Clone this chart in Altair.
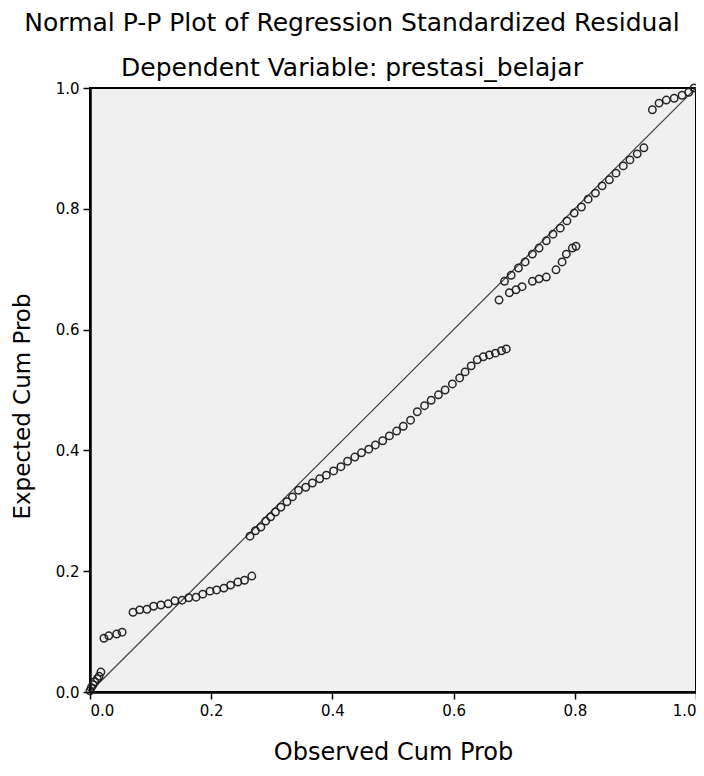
import altair as alt
import pandas as pd

# Observed / expected cumulative probabilities
obs_cum = [0.000, 0.002, 0.005, 0.008, 0.012, 0.015, 0.018,
           0.023, 0.031, 0.044, 0.053,
           0.071, 0.082, 0.094, 0.105, 0.117, 0.129, 0.140, 0.152, 0.163, 0.175,
           0.186, 0.198, 0.209, 0.221, 0.232, 0.244, 0.255, 0.267,
           0.264, 0.273, 0.282, 0.290, 0.298, 0.306, 0.315, 0.325, 0.334,
           0.344, 0.356, 0.367, 0.379, 0.390, 0.402, 0.414, 0.425, 0.437, 0.448,
           0.460, 0.471, 0.483, 0.494, 0.506, 0.517, 0.529, 0.540, 0.552, 0.563,
           0.575, 0.586, 0.598, 0.610, 0.619, 0.629, 0.639, 0.649, 0.659, 0.669,
           0.679, 0.687,
           0.675, 0.692, 0.703, 0.713, 0.730, 0.741, 0.753, 0.769, 0.779, 0.786,
           0.796, 0.802,
           0.684, 0.695, 0.707, 0.718, 0.730, 0.741, 0.753, 0.764, 0.776, 0.787,
           0.799, 0.811, 0.822, 0.834, 0.845, 0.857, 0.868, 0.880, 0.891, 0.903,
           0.914,
           0.928, 0.939, 0.951, 0.964, 0.977, 0.988, 0.997]
exp_cum = [0.002, 0.007, 0.012, 0.017, 0.022, 0.026, 0.033,
           0.089, 0.093, 0.096, 0.099,
           0.132, 0.136, 0.137, 0.142, 0.144, 0.146, 0.151, 0.152, 0.156, 0.157,
           0.162, 0.167, 0.169, 0.172, 0.177, 0.182, 0.185, 0.192,
           0.258, 0.267, 0.273, 0.283, 0.290, 0.298, 0.306, 0.315, 0.323,
           0.334, 0.339, 0.346, 0.353, 0.359, 0.366, 0.373, 0.382, 0.389, 0.396,
           0.402, 0.409, 0.416, 0.424, 0.432, 0.440, 0.450, 0.464, 0.474, 0.483,
           0.492, 0.500, 0.510, 0.520, 0.530, 0.540, 0.550, 0.555, 0.558, 0.561,
           0.565, 0.568,
           0.649, 0.661, 0.666, 0.671, 0.680, 0.684, 0.687, 0.699, 0.712, 0.725,
           0.735, 0.738,
           0.680, 0.690, 0.702, 0.712, 0.725, 0.735, 0.747, 0.758, 0.768, 0.780,
           0.793, 0.803, 0.816, 0.826, 0.838, 0.848, 0.859, 0.871, 0.881, 0.891,
           0.901,
           0.964, 0.975, 0.980, 0.983, 0.988, 0.993, 1.000]

ref_x = [0.0, 1.0]
ref_y = [0.0, 1.0]
tick_values = [0.0, 0.2, 0.4, 0.6, 0.8, 1.0]

FONT = "DejaVu Sans"

pts = pd.DataFrame({"obs": obs_cum, "exp": exp_cum})
ref = pd.DataFrame({"obs": ref_x, "exp": ref_y})

xscale = alt.Scale(domain=[0, 1], nice=False, zero=False)
yscale = alt.Scale(domain=[0, 1], nice=False, zero=False)

xaxis = alt.Axis(values=tick_values, format=".1f", grid=False,
                 title="Observed Cum Prob", titleFontSize=24, titleFont=FONT,
                 titleFontWeight="normal", titleColor="black",
                 titleY=60, titleBaseline="middle",
                 labelFont=FONT, labelFontSize=15, labelColor="black",
                 labelPadding=4, tickSize=7, tickColor="black", tickWidth=1.5,
                 domainColor="black", domainWidth=2.5)
yaxis = alt.Axis(values=tick_values, format=".1f", grid=False,
                 title="Expected Cum Prob", titleFontSize=23, titleFont=FONT,
                 titleFontWeight="normal", titleColor="black",
                 titleX=-68, titleY=318, titleBaseline="middle",
                 labelFont=FONT, labelFontSize=15, labelColor="black",
                 labelPadding=4, tickSize=7, tickColor="black", tickWidth=1.5,
                 domainColor="black", domainWidth=2.5)

line = alt.Chart(ref).mark_line(color="#444444", strokeWidth=1.2).encode(
    x=alt.X("obs:Q", scale=xscale, axis=xaxis),
    y=alt.Y("exp:Q", scale=yscale, axis=yaxis),
)

points = alt.Chart(pts).mark_point(
    filled=False, shape="circle", size=55, strokeWidth=1.5, color="#1e1e1e", opacity=0.95
).encode(
    x=alt.X("obs:Q", scale=xscale),
    y=alt.Y("exp:Q", scale=yscale),
)

chart = alt.layer(line, points).properties(
    width=606,
    height=604,
    autosize=alt.AutoSizeParams(type="none"),
    padding={"left": 82, "top": 80, "right": 0, "bottom": 76},
    background="white",
    title=alt.TitleParams(
        text="Normal P-P Plot of Regression Standardized Residual",
        subtitle="Dependent Variable: prestasi_belajar",
        font=FONT, fontSize=25, fontWeight="normal", color="black",
        subtitleFont=FONT, subtitleFontSize=25, subtitleColor="black",
        subtitlePadding=20, offset=0, anchor="middle", dx=-41,
    ),
).configure_view(
    fill="#f0f0f0", stroke="black", strokeWidth=2
)

chart.save("out.html", embed_options={"renderer": "svg", "actions": False})
